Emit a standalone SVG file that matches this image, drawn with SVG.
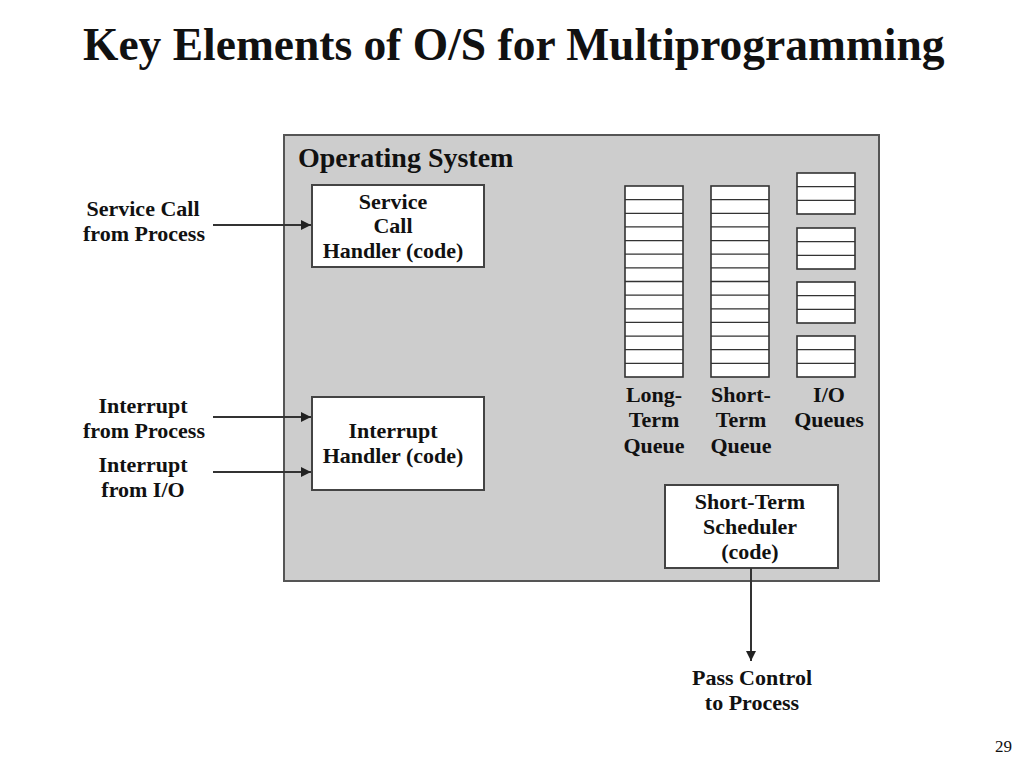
<svg xmlns="http://www.w3.org/2000/svg" width="1024" height="768" viewBox="0 0 1024 768">
<defs>
<marker id="ah" viewBox="0 0 10 10" refX="10" refY="5" markerWidth="10" markerHeight="10" markerUnits="userSpaceOnUse" orient="auto">
<path d="M0,0 L10,5 L0,10 z" fill="#222"/>
</marker>
</defs>
<style>
text{font-family:"Liberation Serif","Times New Roman",serif;font-weight:bold;fill:#111}
.lbl{font-size:22px;text-anchor:middle}
.box{fill:#fff;stroke:#444;stroke-width:2}
.q{fill:#fff;stroke:#333;stroke-width:1.6}
.ql{fill:none;stroke:#333;stroke-width:1.3}
.conn{stroke:#333;stroke-width:2;fill:none;marker-end:url(#ah)}
</style>
<rect width="1024" height="768" fill="#fff"/>
<text x="83" y="60" font-size="45.5">Key Elements of O/S for Multiprogramming</text>

<g id="os">
<rect x="284" y="135" width="595" height="446" fill="#cdcdcd" stroke="#555" stroke-width="2"/>
<text x="298" y="167" font-size="28">Operating System</text>
</g>

<g id="service-call-handler">
<rect class="box" x="312" y="185" width="172" height="82"/>
<text class="lbl" x="393" y="209">Service</text>
<text class="lbl" x="393" y="233">Call</text>
<text class="lbl" x="393" y="258">Handler (code)</text>
</g>

<g id="interrupt-handler">
<rect class="box" x="312" y="397" width="172" height="93"/>
<text class="lbl" x="393" y="438">Interrupt</text>
<text class="lbl" x="393" y="463">Handler (code)</text>
</g>

<g id="long-term-queue">
<rect class="q" x="625" y="186" width="58" height="191"/>
<path class="ql" d="M625 199.6h58M625 213.3h58M625 226.9h58M625 240.6h58M625 254.2h58M625 267.9h58M625 281.5h58M625 295.1h58M625 308.8h58M625 322.4h58M625 336.1h58M625 349.7h58M625 363.4h58"/>
<text class="lbl" x="654" y="402">Long-</text>
<text class="lbl" x="654" y="427">Term</text>
<text class="lbl" x="654" y="453">Queue</text>
</g>

<g id="short-term-queue">
<rect class="q" x="711" y="186" width="58" height="191"/>
<path class="ql" d="M711 199.6h58M711 213.3h58M711 226.9h58M711 240.6h58M711 254.2h58M711 267.9h58M711 281.5h58M711 295.1h58M711 308.8h58M711 322.4h58M711 336.1h58M711 349.7h58M711 363.4h58"/>
<text class="lbl" x="741" y="402">Short-</text>
<text class="lbl" x="741" y="427">Term</text>
<text class="lbl" x="741" y="453">Queue</text>
</g>

<g id="io-queues">
<rect class="q" x="797" y="173" width="58" height="41"/>
<rect class="q" x="797" y="228" width="58" height="41"/>
<rect class="q" x="797" y="282" width="58" height="41"/>
<rect class="q" x="797" y="336" width="58" height="41"/>
<path class="ql" d="M797 186.7h58M797 200.3h58M797 241.7h58M797 255.3h58M797 295.7h58M797 309.3h58M797 349.7h58M797 363.3h58"/>
<text class="lbl" x="829" y="402">I/O</text>
<text class="lbl" x="829" y="427">Queues</text>
</g>

<g id="short-term-scheduler">
<rect class="box" x="665" y="485" width="173" height="83"/>
<text class="lbl" x="750" y="509">Short-Term</text>
<text class="lbl" x="750" y="534">Scheduler</text>
<text class="lbl" x="750" y="559">(code)</text>
</g>

<g id="service-call-label">
<text class="lbl" x="143" y="216">Service Call</text>
<text class="lbl" x="144" y="241">from Process</text>
</g>
<g id="interrupt-process-label">
<text class="lbl" x="143" y="413">Interrupt</text>
<text class="lbl" x="144" y="438">from Process</text>
</g>
<g id="interrupt-io-label">
<text class="lbl" x="143" y="472">Interrupt</text>
<text class="lbl" x="143" y="497">from I/O</text>
</g>
<g id="pass-control-label">
<text class="lbl" x="752" y="685">Pass Control</text>
<text class="lbl" x="752" y="710">to Process</text>
</g>

<g id="connectors">
<path class="conn" d="M213 225H311"/>
<path class="conn" d="M213 417H311"/>
<path class="conn" d="M213 472H311"/>
<path class="conn" d="M751 568V661"/>
</g>

<text x="1012" y="752" font-size="17" text-anchor="end" style="font-weight:normal">29</text>
</svg>
